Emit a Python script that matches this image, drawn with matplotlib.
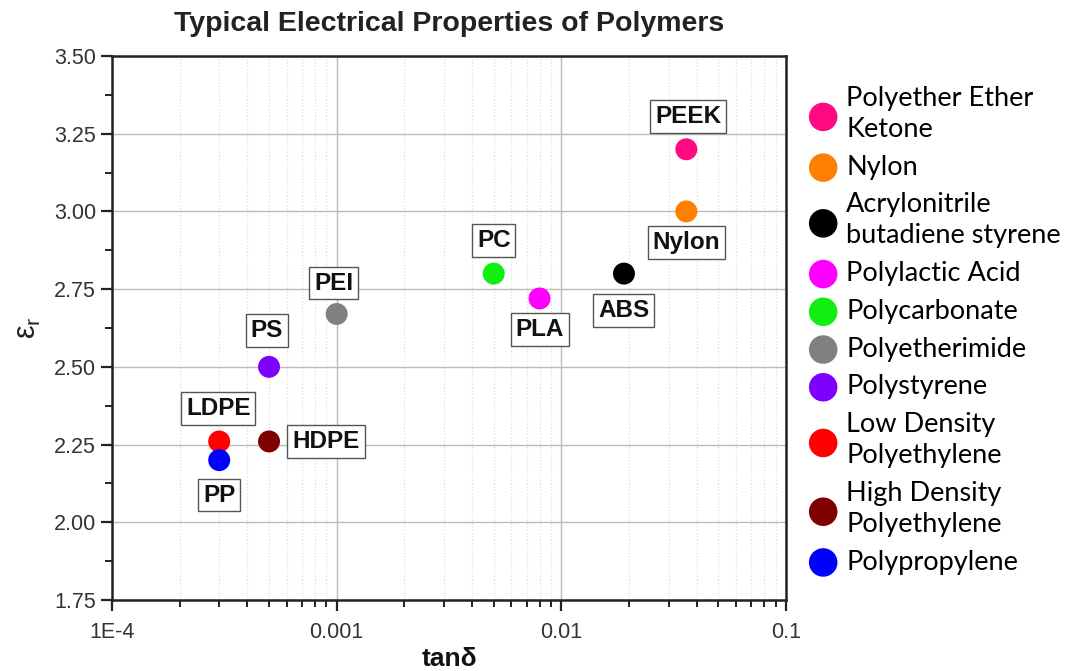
import matplotlib
matplotlib.use("Agg")
import matplotlib.pyplot as plt
from matplotlib.ticker import FixedLocator, FuncFormatter, LogLocator, MultipleLocator

# Data
abbrevs = ["PEEK", "Nylon", "ABS", "PLA", "PC", "PEI", "PS", "LDPE", "HDPE", "PP"]
names = [
    "Polyether Ether\nKetone",
    "Nylon",
    "Acrylonitrile\nbutadiene styrene",
    "Polylactic Acid",
    "Polycarbonate",
    "Polyetherimide",
    "Polystyrene",
    "Low Density\nPolyethylene",
    "High Density\nPolyethylene",
    "Polypropylene",
]
tan_delta = [0.036, 0.036, 0.019, 0.008, 0.005, 0.001, 0.0005, 0.0003, 0.0005, 0.0003]
eps_r = [3.20, 3.00, 2.80, 2.72, 2.80, 2.67, 2.50, 2.26, 2.26, 2.20]
colors = ["#FF0A80", "#FF8000", "#000000", "#FF00FF", "#11EE11",
          "#808080", "#8000FF", "#FF0000", "#800000", "#0000FF"]

# label box offsets (pixels, +y is up)
label_offsets = [(2, 33), (0, -31), (0, -37), (0, -31), (0, 33),
                 (-3, 31), (-2, 36), (-1, 33), (57, 0), (0, -35)]

x_ticks = [1e-4, 1e-3, 1e-2, 1e-1]
x_ticklabels = ["1E-4", "0.001", "0.01", "0.1"]

plt.rcParams.update({
    "font.family": ["Liberation Sans", "DejaVu Sans"],
    "axes.edgecolor": "#222222",
    "axes.linewidth": 1.8,
})

fig = plt.figure(figsize=(10.75, 6.71), dpi=100)
ax = fig.add_axes([112 / 1075, 1 - 600 / 671, (786 - 112) / 1075, (600 - 56) / 671])

ax.set_xscale("log")
ax.set_xlim(1e-4, 1e-1)
ax.set_ylim(1.75, 3.50)

handles = []
for xv, yv, c, nm in zip(tan_delta, eps_r, colors, names):
    h = ax.scatter(xv, yv, s=250, color=c, edgecolors="none", zorder=3, label=nm)
    handles.append(h)

px = 0.72
for ab, xv, yv, (dx, dy) in zip(abbrevs, tan_delta, eps_r, label_offsets):
    ax.annotate(ab, (xv, yv), xytext=(dx * px, dy * px), textcoords="offset points",
                ha="center", va="center", fontsize=17.5, fontweight="bold", color="#111111",
                bbox=dict(boxstyle="square,pad=0.2", facecolor="white",
                          edgecolor="#555555", linewidth=1.0), zorder=4)

# ticks
ax.xaxis.set_major_locator(FixedLocator(x_ticks))
ax.xaxis.set_major_formatter(FuncFormatter(lambda v, _: x_ticklabels[x_ticks.index(v)] if v in x_ticks else ""))
ax.xaxis.set_minor_locator(LogLocator(base=10, subs=range(2, 10)))
ax.xaxis.set_minor_formatter(FuncFormatter(lambda v, _: ""))
ax.yaxis.set_major_locator(MultipleLocator(0.25))
ax.yaxis.set_minor_locator(MultipleLocator(0.125))
ax.yaxis.set_major_formatter(FuncFormatter(lambda v, _: f"{v:.2f}"))

ax.tick_params(which="major", direction="out", length=8, width=1.6, colors="#222222",
               labelsize=15.5, labelcolor="#333333", top=False, right=False)
ax.tick_params(which="minor", direction="out", length=5, width=1.4, colors="#222222",
               top=False, right=False)
ax.tick_params(axis="x", which="major", pad=8)

ax.grid(which="major", color="#BBBBBB", linestyle="-", linewidth=1.0)
ax.grid(which="minor", axis="x", color="#DDDDDD", linestyle=":", linewidth=0.9)
ax.set_axisbelow(True)

ax.set_title("Typical Electrical Properties of Polymers", fontsize=20.5, fontweight="bold",
             color="#222222", pad=18)
ax.set_xlabel("tan\u03b4", fontsize=19, fontweight="bold", color="#111111", labelpad=3)
ax.set_ylabel("$\\mathregular{\u03b5_r}$", fontsize=22, color="#222222", labelpad=8)

leg = fig.legend(handles=handles, loc="upper left", bbox_to_anchor=(811 / 1075, 1 - 86 / 671),
                 frameon=False, prop={"family": "Lato", "size": 19.5}, markerscale=1.3,
                 scatterpoints=1, handlelength=0.9, handletextpad=0.4,
                 labelspacing=0.47, borderpad=0, borderaxespad=0)
for t in leg.get_texts():
    t.set_linespacing(1.3)

fig.savefig("out.png", dpi=100)
